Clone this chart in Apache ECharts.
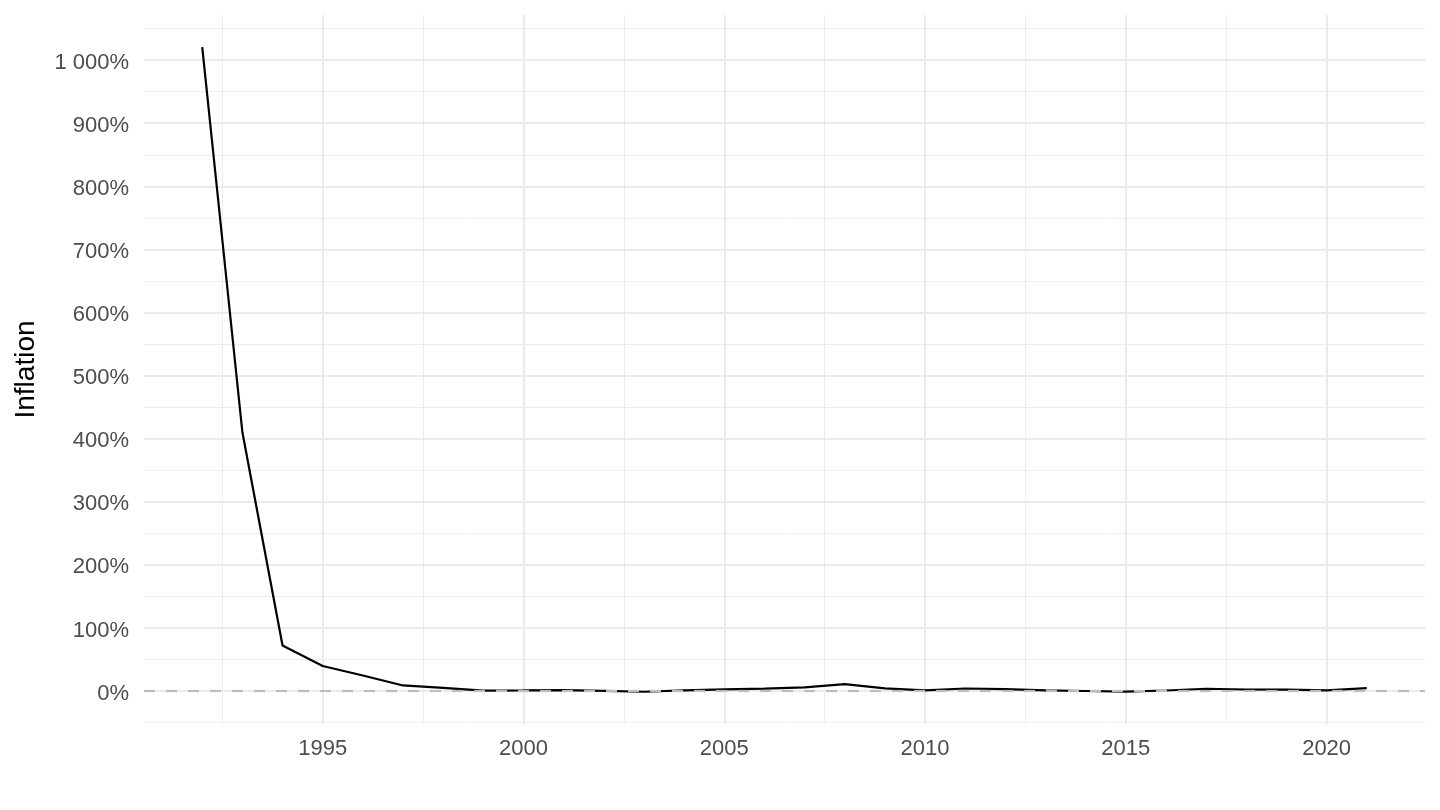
<!DOCTYPE html>
<html>
<head>
<meta charset="utf-8">
<script src="https://cdn.jsdelivr.net/npm/echarts@6/dist/echarts.min.js"></script>
<style>
html,body{margin:0;padding:0;background:#fff;}
#chart{width:1440px;height:810px;}
</style>
</head>
<body>
<div id="chart"></div>
<script>
const years = [1992,1993,1994,1995,1996,1997,1998,1999,2000,2001,2002,2003,2004,2005,2006,2007,2008,2009,2010,2011,2012,2013,2014,2015,2016,2017,2018,2019,2020,2021];
const inflation = [1020.5,410.2,72.1,39.7,24.6,8.9,5.1,0.8,1.0,1.5,0.3,-1.1,1.2,2.7,3.8,5.8,11.1,4.2,1.2,4.1,3.1,1.0,0.1,-0.9,0.9,3.7,2.5,2.3,1.1,4.7];
const xMajorTicks = [1995,2000,2005,2010,2015,2020];
const xMinorTicks = [1992.5,1997.5,2002.5,2007.5,2012.5,2017.5,2022.5];
const yMajorTicks = [0,100,200,300,400,500,600,700,800,900,1000];
const yMinorTicks = [-50,50,150,250,350,450,550,650,750,850,950,1050];
const xRange = [1990.55, 2022.45];
const yRange = [-52.2, 1071.5];

const font = "'Liberation Sans', Arial, Helvetica, sans-serif";
const majorStyle = {color:'#ebebeb', width:2};
const minorStyle = {color:'#ededed', width:1};

function fmtPct(v){
  const s = String(Math.round(v));
  return '{a|' + s.replace(/\B(?=(\d{3})+(?!\d))/g, ' ') + '%}';
}

const chart = echarts.init(document.getElementById('chart'), null, {renderer:'canvas'});
chart.setOption({
  backgroundColor:'#ffffff',
  animation:false,
  grid:{left:144, right:15, top:15, bottom:86, containLabel:false},
  xAxis:[
    {type:'value', position:'bottom', min:xRange[0], max:xRange[1],
     axisLine:{show:false}, axisTick:{show:false, customValues:xMajorTicks},
     axisLabel:{customValues:xMajorTicks, color:'#4d4d4d', fontSize:22, fontFamily:font, margin:14,
                formatter:v=>String(v)},
     splitLine:{show:true, lineStyle:majorStyle}, z:1},
    {type:'value', position:'top', min:xRange[0], max:xRange[1],
     axisLine:{show:false}, axisTick:{show:false, customValues:xMinorTicks},
     axisLabel:{show:false, customValues:xMinorTicks},
     splitLine:{show:true, lineStyle:minorStyle}, z:0}
  ],
  yAxis:[
    {type:'value', position:'left', min:yRange[0], max:yRange[1],
     name:'Inflation', nameLocation:'middle', nameGap:104, nameRotate:90,
     nameTextStyle:{color:'#000000', fontSize:28, fontFamily:font},
     axisLine:{show:false}, axisTick:{show:false, customValues:yMajorTicks},
     axisLabel:{customValues:yMajorTicks, color:'#4d4d4d', fontSize:22, fontFamily:font, margin:15,
                formatter:fmtPct,
                rich:{a:{color:'#4d4d4d', fontSize:22, fontFamily:font, padding:[5,0,0,0]}}},
     splitLine:{show:true, lineStyle:majorStyle}, z:1},
    {type:'value', position:'right', min:yRange[0], max:yRange[1],
     axisLine:{show:false}, axisTick:{show:false, customValues:yMinorTicks},
     axisLabel:{show:false, customValues:yMinorTicks},
     splitLine:{show:true, lineStyle:minorStyle}, z:0}
  ],
  series:[
    {type:'line', xAxisIndex:0, yAxisIndex:0, z:3,
     data: years.map((y,i)=>[y, inflation[i]]),
     symbol:'none', lineStyle:{color:'#000000', width:2.2}},
    {type:'line', xAxisIndex:0, yAxisIndex:0, z:5, data:[],
     markLine:{silent:true, symbol:['none','none'], label:{show:false},
       lineStyle:{type:[11,11], color:'#bdbdbd', width:2.2},
       data:[{yAxis:0}]}}
  ]
});
</script>
</body>
</html>
